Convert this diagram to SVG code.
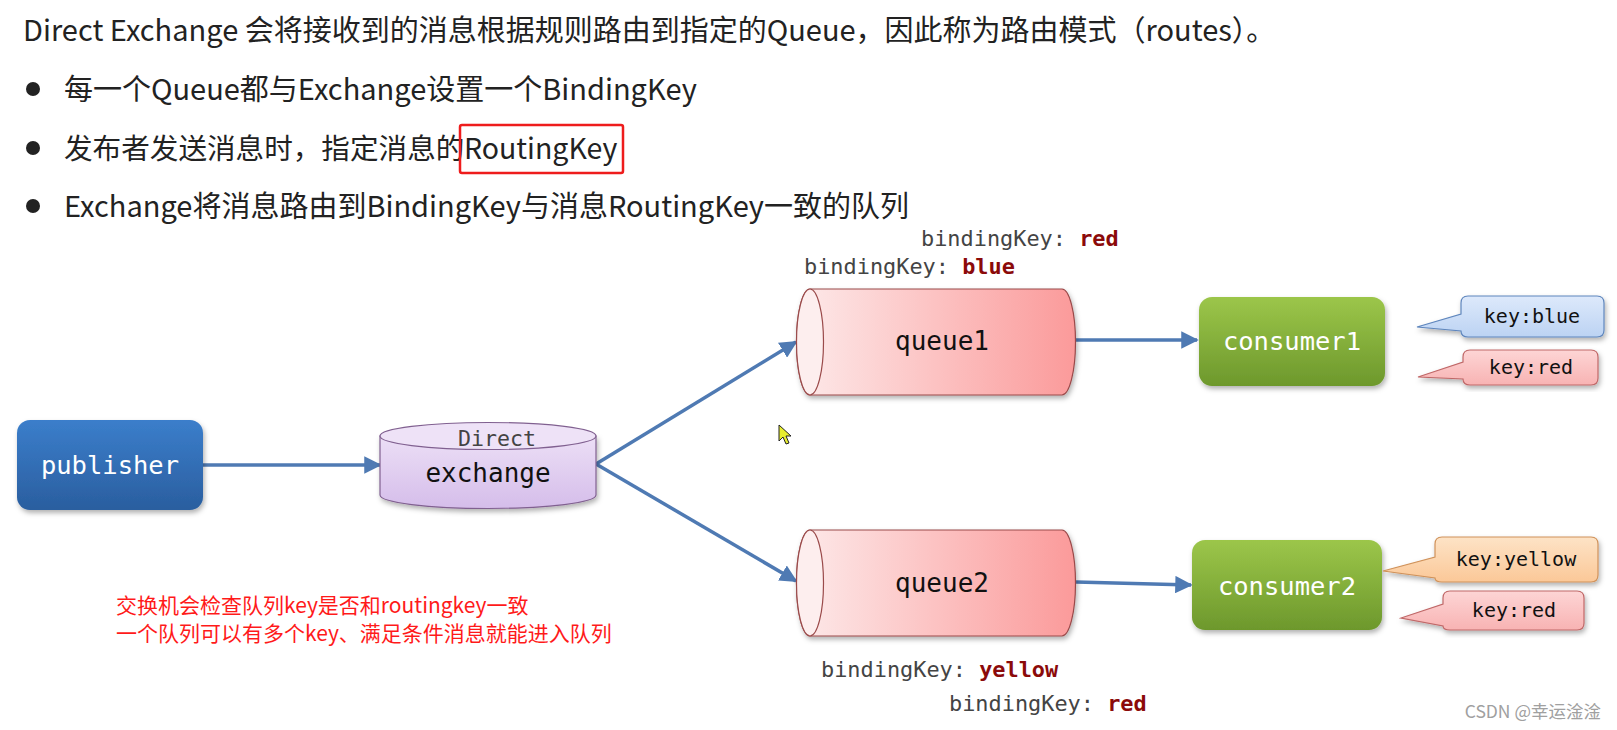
<svg xmlns="http://www.w3.org/2000/svg" width="1617" height="730" viewBox="0 0 1617 730">
<defs>
  <linearGradient id="gPub" x1="0" y1="0" x2="0" y2="1">
    <stop offset="0" stop-color="#3b7ecb"/>
    <stop offset="1" stop-color="#2a5e9f"/>
  </linearGradient>
  <linearGradient id="gCons" x1="0" y1="0" x2="0" y2="1">
    <stop offset="0" stop-color="#9cc64a"/>
    <stop offset="1" stop-color="#6d982c"/>
  </linearGradient>
  <linearGradient id="gQueue" x1="0" y1="0" x2="1" y2="0">
    <stop offset="0" stop-color="#fdeaea"/>
    <stop offset="1" stop-color="#fb9a9a"/>
  </linearGradient>
  <linearGradient id="gEx" x1="0" y1="0" x2="0" y2="1">
    <stop offset="0" stop-color="#ecdff6"/>
    <stop offset="1" stop-color="#d5bdea"/>
  </linearGradient>
  <linearGradient id="gBlue" x1="0" y1="0" x2="0" y2="1">
    <stop offset="0" stop-color="#dde9fb"/>
    <stop offset="1" stop-color="#bcd3f3"/>
  </linearGradient>
  <linearGradient id="gRed" x1="0" y1="0" x2="0" y2="1">
    <stop offset="0" stop-color="#fdd5d5"/>
    <stop offset="1" stop-color="#f8b3b3"/>
  </linearGradient>
  <linearGradient id="gYel" x1="0" y1="0" x2="0" y2="1">
    <stop offset="0" stop-color="#fde3c6"/>
    <stop offset="1" stop-color="#fbc898"/>
  </linearGradient>
  <filter id="sh" x="-10%" y="-10%" width="125%" height="130%">
    <feDropShadow dx="1.5" dy="3" stdDeviation="2.5" flood-color="#000" flood-opacity="0.3"/>
  </filter>
  <marker id="arr" viewBox="0 0 10 10" refX="9" refY="5" markerWidth="5" markerHeight="5" orient="auto" markerUnits="strokeWidth">
    <path d="M0,0 L10,5 L0,10 Z" fill="#4f7ab3"/>
  </marker>
</defs>
<style>
  .cjk { font-family: "Noto Sans CJK SC", "Noto Sans", sans-serif; }
  .title { font-size: 29px; fill: #222; }
  .bul { font-size: 29px; fill: #222; }
  .mono { font-family: "DejaVu Sans Mono", "Liberation Mono", monospace; }
  .nodeW { font-size: 25.5px; fill: #ffffff; }
  .nodeB { font-size: 26px; fill: #111; }
  .bk { font-size: 21.9px; fill: #444; }
  .bkv { font-weight: bold; fill: #8b0a0a; }
  .key { font-size: 20px; fill: #111; }
  .note { font-size: 21px; fill: #ff1a1a; }
  .conn { stroke: #4f7ab3; stroke-width: 3.5; fill: none; marker-end: url(#arr); }
</style>
<rect width="1617" height="730" fill="#ffffff"/>

<g id="header">
  <text class="cjk title" x="23" y="41">Direct Exchange 会将接收到的消息根据规则路由到指定的Queue，因此称为路由模式（routes）。</text>
  <circle cx="33" cy="89" r="7" fill="#222"/>
  <text class="cjk bul" x="64" y="100">每一个Queue都与Exchange设置一个BindingKey</text>
  <circle cx="33" cy="148" r="7" fill="#222"/>
  <text class="cjk bul" x="64" y="159" style="font-size:28.6px">发布者发送消息时，指定消息的<tspan x="464" style="font-size:28.5px">RoutingKey</tspan></text>
  <rect x="460" y="125" width="163" height="48" fill="none" stroke="#ee1c1c" stroke-width="2.5" rx="2"/>
  <circle cx="33" cy="206" r="7" fill="#222"/>
  <text class="cjk bul" x="64" y="217">Exchange将消息路由到BindingKey与消息RoutingKey一致的队列</text>
</g>

<g id="connectors">
  <line class="conn" x1="203" y1="465" x2="380" y2="465"/>
  <line class="conn" x1="596" y1="464" x2="796" y2="342"/>
  <line class="conn" x1="596" y1="464" x2="796" y2="581"/>
  <line class="conn" x1="1076" y1="340" x2="1197" y2="340"/>
  <line class="conn" x1="1076" y1="582" x2="1191" y2="585"/>
</g>

<g id="publisher">
  <rect x="17" y="420" width="186" height="90" rx="13" fill="url(#gPub)" filter="url(#sh)"/>
  <text class="mono nodeW" x="110" y="474" text-anchor="middle">publisher</text>
</g>

<g id="exchange">
  <path d="M380 436 V495 A108 13.5 0 0 0 596 495 V436 Z" fill="url(#gEx)" stroke="#806090" stroke-width="1.2" filter="url(#sh)"/>
  <ellipse cx="488" cy="436" rx="108" ry="13.5" fill="#eee2f7" stroke="#806090" stroke-width="1.2"/>
  <text class="mono" x="497" y="446" text-anchor="middle" font-size="21.6" fill="#444">Direct</text>
  <text class="mono nodeB" x="488" y="482" text-anchor="middle">exchange</text>
</g>

<g id="queue1">
  <path d="M810 289 H1062 A13.5 53 0 0 1 1062 395 H810 A13.5 53 0 0 1 810 289 Z" fill="url(#gQueue)" stroke="#9a4a4a" stroke-width="1.2" filter="url(#sh)"/>
  <ellipse cx="810" cy="342" rx="13.5" ry="53" fill="#fdeeee" stroke="#9a4a4a" stroke-width="1.2"/>
  <text class="mono nodeB" x="942" y="350" text-anchor="middle">queue1</text>
</g>
<g id="bk-queue1">
  <text class="mono bk" x="921" y="246">bindingKey: <tspan class="bkv">red</tspan></text>
  <text class="mono bk" x="804" y="274">bindingKey: <tspan class="bkv">blue</tspan></text>
</g>

<g id="queue2">
  <path d="M810 530 H1062 A13.5 53 0 0 1 1062 636 H810 A13.5 53 0 0 1 810 530 Z" fill="url(#gQueue)" stroke="#9a4a4a" stroke-width="1.2" filter="url(#sh)"/>
  <ellipse cx="810" cy="583" rx="13.5" ry="53" fill="#fdeeee" stroke="#9a4a4a" stroke-width="1.2"/>
  <text class="mono nodeB" x="942" y="592" text-anchor="middle">queue2</text>
</g>
<g id="bk-queue2">
  <text class="mono bk" x="821" y="677">bindingKey: <tspan class="bkv">yellow</tspan></text>
  <text class="mono bk" x="949" y="711">bindingKey: <tspan class="bkv">red</tspan></text>
</g>

<g id="consumer1">
  <rect x="1199" y="297" width="186" height="89" rx="13" fill="url(#gCons)" filter="url(#sh)"/>
  <text class="mono nodeW" x="1292" y="350" text-anchor="middle">consumer1</text>
</g>
<g id="consumer2">
  <rect x="1192" y="540" width="190" height="90" rx="13" fill="url(#gCons)" filter="url(#sh)"/>
  <text class="mono nodeW" x="1287" y="595" text-anchor="middle">consumer2</text>
</g>

<g id="callout-blue">
  <path d="M1468 296 H1597 Q1604 296 1604 303 V330 Q1604 337 1597 337 H1468 Q1461 337 1461 331 L1417 327 L1461 314 V303 Q1461 296 1468 296 Z" fill="url(#gBlue)" stroke="#5f86bd" stroke-width="1.2" filter="url(#sh)"/>
  <text class="mono key" x="1532" y="323" text-anchor="middle">key:blue</text>
</g>
<g id="callout-red1">
  <path d="M1470 350 H1591 Q1598 350 1598 357 V378 Q1598 385 1591 385 H1470 Q1463 385 1463 379 L1418 377 L1463 362 V357 Q1463 350 1470 350 Z" fill="url(#gRed)" stroke="#c06868" stroke-width="1.2" filter="url(#sh)"/>
  <text class="mono key" x="1531" y="374" text-anchor="middle">key:red</text>
</g>
<g id="callout-yellow">
  <path d="M1442 537 H1591 Q1598 537 1598 544 V575 Q1598 582 1591 582 H1442 Q1435 582 1435 578 L1383 571 L1435 557 V544 Q1435 537 1442 537 Z" fill="url(#gYel)" stroke="#d0925a" stroke-width="1.2" filter="url(#sh)"/>
  <text class="mono key" x="1516" y="566" text-anchor="middle">key:yellow</text>
</g>
<g id="callout-red2">
  <path d="M1450 591 H1577 Q1584 591 1584 598 V623 Q1584 630 1577 630 H1450 Q1443 630 1443 626 L1401 618 L1443 604 V598 Q1443 591 1450 591 Z" fill="url(#gRed)" stroke="#c06868" stroke-width="1.2" filter="url(#sh)"/>
  <text class="mono key" x="1514" y="617" text-anchor="middle">key:red</text>
</g>

<g id="note">
  <text class="cjk note" x="116" y="613">交换机会检查队列key是否和routingkey一致</text>
  <text class="cjk note" x="116" y="641">一个队列可以有多个key、满足条件消息就能进入队列</text>
</g>

<g id="cursor">
  <path d="M779 425 L779 441 L783 437 L786 444 L789 443 L786 436 L791 436 Z" fill="#e8ee30" stroke="#222" stroke-width="1"/>
</g>

<text class="cjk" x="1601" y="718" text-anchor="end" font-size="17.5" fill="#a0a0a0">CSDN @幸运淦淦</text>
</svg>
